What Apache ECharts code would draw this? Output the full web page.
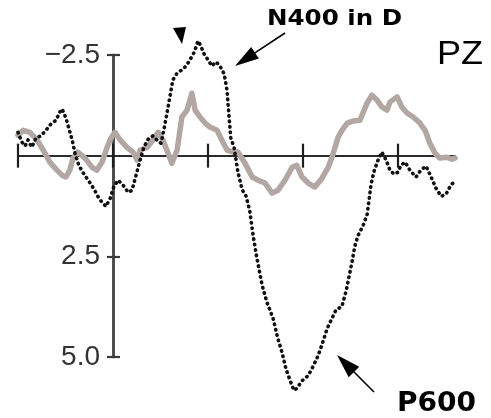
<!DOCTYPE html>
<html><head><meta charset="utf-8">
<script src="https://cdn.jsdelivr.net/npm/echarts@6/dist/echarts.min.js"></script>
<style>html,body{margin:0;padding:0;background:#fff}#c{width:491px;height:418px}</style>
</head><body><div id="c"></div>
<script>
// Time (ms) and amplitude (µV, negative up)
const dottedTimes = [-200,-192,-185,-179,-171,-162,-152,-141,-131,-120,-112,-107,-99,-93,-86,-80,-72,-61,-51,-40,-32,-23,-15,-6,2,11,21,32,40,48,57,65,74,84,95,101,107,114,120,126,135,145,154,162,171,179,185,192,200,208,217,225,234,240,244,248,255,263,272,280,288,295,303,314,324,337,347,356,364,373,381,387,398,411,421,432,440,451,459,469,482,491,497,503,509,516,526,535,539,543,549,558,566,575,583,592,600,606,615,625,638,648,659,669,680,691,701,712,720];
const dottedValues = [-0.58,-0.34,-0.24,-0.39,-0.21,-0.44,-0.49,-0.63,-0.78,-0.88,-1.08,-1.16,-0.93,-0.68,-0.39,-0.06,0.24,0.46,0.63,0.83,1.01,1.16,1.26,1.06,0.76,0.61,0.73,0.91,0.86,0.51,0.11,-0.21,-0.41,-0.49,-0.36,-0.31,-0.63,-1.08,-1.48,-1.88,-2.05,-2.13,-2.23,-2.38,-2.57,-2.85,-2.72,-2.52,-2.38,-2.23,-2.33,-2.23,-2.03,-1.63,-1.01,-0.44,-0.2,0.41,0.85,1.0,1.38,1.98,2.55,3.22,3.64,4.04,4.54,4.89,5.29,5.59,5.83,5.78,5.59,5.46,5.24,4.96,4.69,4.29,4.09,3.84,3.74,3.35,3.00,2.65,2.25,1.98,1.75,1.46,1.11,0.73,0.41,0.11,-0.09,0.11,0.36,0.46,0.41,0.24,0.16,0.36,0.53,0.36,0.26,0.51,0.81,1.01,0.96,0.71,0.66];
const grayTimes = [-200,-189,-175,-160,-147,-133,-122,-107,-99,-91,-84,-74,-59,-44,-34,-23,-13,-4,4,15,29,42,51,57,72,84,95,105,116,124,135,145,156,166,173,183,194,204,219,229,240,253,263,278,293,305,320,335,347,362,377,387,398,411,425,440,453,461,474,482,493,505,520,535,545,556,566,577,583,598,608,619,632,646,657,667,678,688,703,714,720];
const grayValues = [-0.51,-0.63,-0.58,-0.39,-0.14,0.16,0.31,0.49,0.53,0.36,0.06,-0.09,0.06,0.29,0.36,0.16,-0.19,-0.44,-0.58,-0.39,-0.21,-0.09,0.11,-0.14,-0.21,-0.39,-0.58,-0.39,-0.06,0.19,-0.14,-0.96,-1.13,-1.55,-1.13,-0.96,-0.81,-0.71,-0.63,-0.39,-0.14,-0.09,-0.09,0.19,0.53,0.61,0.68,0.93,0.86,0.61,0.29,0.24,0.53,0.68,0.78,0.56,0.29,0.04,-0.46,-0.63,-0.81,-0.86,-0.88,-1.31,-1.50,-1.38,-1.21,-1.13,-1.33,-1.46,-1.21,-1.06,-0.96,-0.81,-0.63,-0.31,-0.06,0.06,0.04,0.09,0.06];
const xTickValues = [-200, 0, 200, 400, 600];
const yTickValues = [-2.5, 2.5, 5.0];
const yTickLabels = ['−2.5', '2.5', '5.0'];
const channelLabel = 'PZ';
const n400Label = 'N400 in D';
const p600Label = 'P600';

const pair = (ts, vs) => ts.map((t, i) => [t, vs[i]]);

const mctx = document.createElement('canvas').getContext('2d');
function scaleFor(text, font, targetW) {
  mctx.font = font;
  return targetW / mctx.measureText(text).width;
}
function textEl(text, weight, size, family, x, y, targetW) {
  const font = weight + ' ' + size + 'px ' + family;
  const s = scaleFor(text, font, targetW);
  return {
    type: 'text', x: x, y: y, scaleX: s, silent: true,
    style: { text: text, fontSize: size, fontWeight: weight, fontFamily: family,
             fill: '#000', align: 'left', verticalAlign: 'middle' }
  };
}
function arrow(tail, tip, len, hw) {
  const dx = tip[0] - tail[0], dy = tip[1] - tail[1];
  const d = Math.hypot(dx, dy), ux = dx / d, uy = dy / d;
  const bx = tip[0] - ux * len, by = tip[1] - uy * len;
  return [
    { type: 'line', silent: true, shape: { x1: tail[0], y1: tail[1], x2: bx + ux * 2, y2: by + uy * 2 },
      style: { stroke: '#000', lineWidth: 1.6 } },
    { type: 'polygon', silent: true,
      shape: { points: [tip, [bx - uy * hw, by + ux * hw], [bx + uy * hw, by - ux * hw]] },
      style: { fill: '#000' } }
  ];
}

const chart = echarts.init(document.getElementById('c'), null, { renderer: 'canvas' });
const xBase = {
  type: 'value', min: -200, max: 720, gridIndex: 0,
  axisLine: { show: true, onZero: true, lineStyle: { color: '#1e1e1e', width: 1.6 } },
  axisLabel: { show: false }, splitLine: { show: false }
};
const yBase = {
  type: 'value', inverse: true, min: -2.5, max: 5.0, gridIndex: 0,
  axisLine: { show: true, onZero: true, lineStyle: { color: '#4a4a4a', width: 2.6 } },
  splitLine: { show: false }
};
chart.setOption({
  animation: false,
  backgroundColor: '#fff',
  grid: { left: 18, right: 36, top: 55, bottom: 61, containLabel: false, outerBoundsMode: 'none' },
  xAxis: [
    Object.assign({}, xBase, { position: 'bottom',
      axisTick: { show: true, inside: false, length: 12, customValues: xTickValues,
                  lineStyle: { color: '#1e1e1e', width: 2.2 } } }),
    Object.assign({}, xBase, { position: 'top',
      axisTick: { show: true, inside: false, length: 12, customValues: xTickValues,
                  lineStyle: { color: '#1e1e1e', width: 2.2 } } })
  ],
  yAxis: [
    Object.assign({}, yBase, { position: 'left',
      axisTick: { show: true, inside: false, length: 6, customValues: yTickValues,
                  lineStyle: { color: '#3a3a3a', width: 2.2 } },
      axisLabel: { show: true, margin: -82, customValues: yTickValues, showMinLabel: true, showMaxLabel: true,
                   fontSize: 28, fontFamily: 'Liberation Sans', color: '#333', align: 'right',
                   formatter: v => yTickLabels[yTickValues.indexOf(v)] } }),
    Object.assign({}, yBase, { position: 'right',
      axisTick: { show: true, inside: false, length: 7, customValues: yTickValues,
                  lineStyle: { color: '#3a3a3a', width: 2.2 } },
      axisLabel: { show: false } })
  ],
  series: [
    { type: 'line', xAxisIndex: 0, yAxisIndex: 0, data: pair(grayTimes, grayValues),
      showSymbol: false, smooth: false, clip: false,
      lineStyle: { color: '#b3a7a3', width: 5.5, join: 'round', cap: 'round' } },
    { type: 'line', xAxisIndex: 0, yAxisIndex: 0, data: pair(dottedTimes, dottedValues),
      showSymbol: false, smooth: false, clip: false,
      lineStyle: { color: '#111', width: 3.6, type: [0.5, 5], cap: 'round', join: 'round' } }
  ],
  graphic: [
    textEl(n400Label, 'bold', 21, 'DejaVu Sans', 267, 20, 135),
    textEl(p600Label, 'bold', 27, 'DejaVu Sans', 397, 404, 79),
    textEl(channelLabel, 'normal', 33, 'Liberation Sans', 437, 55, 46),
    ...arrow([285, 33], [235, 66], 24, 7),
    ...arrow([374, 392], [337, 355], 24, 7.5),
    { type: 'polygon', silent: true, shape: { points: [[173, 28], [186, 27], [182, 44]] }, style: { fill: '#000' } }
  ]
});
</script></body></html>
